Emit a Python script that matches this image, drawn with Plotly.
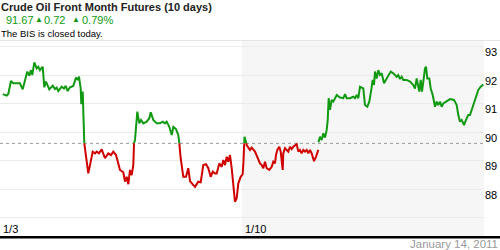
import plotly.graph_objects as go

# ---- data (x in trading days since 1/3, price in USD) ----
DAYS = [0.056, 0.138, 0.171, 0.227, 0.275, 0.413, 0.469, 0.517, 0.564, 0.605, 0.640, 0.667, 0.709, 0.758, 0.791, 0.826, 0.882, 0.915, 0.950,
        1.019, 1.089, 1.136, 1.171, 1.205, 1.275, 1.322, 1.357, 1.399, 1.446, 1.514, 1.570, 1.605, 1.632, 1.667, 1.680, 1.709, 1.721, 1.742,
        1.777, 1.824, 1.874, 1.915, 1.963, 1.998, 2.045, 2.101, 2.169, 2.238, 2.293, 2.341, 2.397, 2.479, 2.548, 2.583, 2.618, 2.651, 2.686,
        2.721, 2.754, 2.769, 2.789, 2.837, 2.878, 2.913, 2.961, 3.031, 3.085, 3.114, 3.167, 3.238, 3.306, 3.362, 3.409, 3.444, 3.498, 3.548,
        3.581, 3.636, 3.684, 3.705, 3.733, 3.787, 3.843, 3.890, 3.926, 3.994, 4.029, 4.097, 4.147, 4.200, 4.256, 4.304, 4.353, 4.395, 4.442,
        4.477, 4.531, 4.581, 4.614, 4.649, 4.684, 4.717, 4.752, 4.787, 4.820, 4.855, 4.890, 4.924, 4.973, 5.014, 5.031, 5.052, 5.097, 5.165,
        5.200, 5.269, 5.303, 5.372, 5.407, 5.440, 5.475, 5.510, 5.564, 5.614, 5.647, 5.682, 5.702, 5.729, 5.771, 5.800, 5.841, 5.853, 5.888,
        5.957, 5.992, 6.027, 6.060, 6.095, 6.130, 6.163, 6.198, 6.233, 6.267, 6.302, 6.337, 6.370, 6.405, 6.440, 6.488, 6.529, 6.576,
        None,
        6.580, 6.612, 6.647, 6.680, 6.715, 6.750, 6.771, 6.791, 6.818, 6.853, 6.886, 6.957, 7.025, 7.093, 7.128, 7.163, 7.231, 7.300, 7.335,
        7.370, 7.403, 7.438, 7.506, 7.541, 7.589, 7.630, 7.665, 7.700, 7.727, 7.748, 7.783, 7.816, 7.851, 7.886, 7.934, 7.975, 8.023, 8.072,
        8.126, 8.161, 8.196, 8.229, 8.264, 8.299, 8.333, 8.403, 8.471, 8.539, 8.574, 8.609, 8.643, 8.663, 8.692, 8.719, 8.746, 8.781, 8.802,
        8.829, 8.870, 8.899, 8.940, 8.988, 9.023, 9.056, 9.091, 9.126, 9.159, 9.229, 9.298, 9.380, 9.436, 9.469, 9.504, 9.539, 9.587, 9.628,
        9.676, 9.711, 9.746, 9.779, 9.814, 9.849, 9.882, 9.932, 9.986]
PRICES = [91.33, 91.28, 91.34, 91.79, 91.71, 91.71, 91.50, 91.83, 92.12, 91.98, 92.17, 92.00, 92.44, 92.23, 92.29, 92.17, 92.29, 91.57, 91.77,
          91.50, 91.63, 91.51, 91.56, 91.44, 91.59, 91.53, 91.62, 91.44, 91.57, 91.62, 91.91, 91.83, 91.94, 91.53, 90.98, 91.42, 90.49, 89.61,
          89.14, 88.56, 88.97, 89.32, 89.26, 89.32, 89.26, 89.40, 89.09, 89.26, 89.20, 89.32, 89.20, 88.68, 88.60, 88.27, 88.44, 88.18, 88.68,
          88.50, 88.85, 89.61, 89.73, 90.72, 90.31, 90.43, 90.31, 90.37, 90.49, 90.70, 90.43, 90.31, 90.31, 90.37, 90.31, 90.37, 90.19, 89.90,
          90.19, 90.11, 89.90, 89.61, 89.09, 88.44, 88.44, 88.74, 88.29, 88.15, 88.09, 88.27, 88.25, 88.85, 88.88, 88.74, 88.44, 88.62, 88.56,
          88.56, 88.91, 88.79, 89.03, 88.85, 89.14, 88.97, 89.20, 88.74, 88.21, 87.57, 87.69, 88.21, 88.44, 88.53, 88.99, 89.84, 89.55, 89.38,
          89.46, 89.32, 89.20, 88.91, 88.85, 88.74, 88.97, 88.74, 88.68, 88.79, 88.97, 88.91, 89.20, 89.38, 89.49, 89.32, 88.68, 89.26, 89.44,
          89.32, 89.49, 89.41, 89.49, 89.55, 89.58, 89.32, 89.38, 89.26, 89.38, 89.32, 89.38, 89.26, 89.38, 89.26, 88.99, 89.14, 89.38,
          None,
          89.65, 89.84, 89.73, 89.96, 89.81, 90.08, 90.43, 91.19, 90.78, 91.13, 91.07, 91.30, 91.21, 91.19, 91.33, 91.19, 91.19, 91.24, 91.19,
          91.30, 91.19, 91.59, 91.53, 90.95, 90.89, 91.07, 91.42, 91.83, 91.65, 92.12, 91.88, 92.17, 92.00, 92.06, 91.71, 91.83, 91.94, 92.12,
          92.06, 92.00, 91.94, 92.00, 91.86, 91.94, 91.83, 91.83, 91.77, 91.65, 91.53, 91.88, 91.65, 91.42, 91.83, 91.42, 91.77, 92.23, 92.29,
          91.88, 91.88, 91.53, 91.30, 90.89, 91.07, 90.95, 91.07, 90.89, 91.01, 91.09, 91.16, 91.13, 90.95, 90.60, 90.37, 90.43, 90.25, 90.43,
          90.60, 90.60, 90.78, 90.95, 91.19, 91.30, 91.48, 91.59, 91.67]
BASELINE = 89.61
Y_TICKS = [88, 89, 90, 91, 92, 93]
GRID_VALUES = [87, 88, 89, 90, 91, 92, 93]
X_TICK_DAYS = [0, 5]
X_TICK_LABELS = ["1/3", "1/10"]
TITLE = "Crude Oil Front Month Futures (10 days)"
LAST, CHANGE, PCT = "91.67", "0.72", "0.79%"
NOTE = "The BIS is closed today."
DATE_TEXT = "January 14, 2011"

GREEN = "#119a11"
RED = "#d00000"
FONT = "Arial, Liberation Sans, sans-serif"

# ---- split the line into above/below-baseline parts ----
pts = []
for x, y in zip(DAYS, PRICES):
    if y is None:
        pts.append(None)
        continue
    if pts and pts[-1] is not None:
        x0, y0 = pts[-1]
        if (y0 - BASELINE) * (y - BASELINE) < 0:
            t = (BASELINE - y0) / (y - y0)
            pts.append((x0 + t * (x - x0), BASELINE))
    pts.append((x, y))

parts = {"g": ([], []), "r": ([], [])}
last = {"g": None, "r": None}
for j in range(len(pts) - 1):
    a, b = pts[j], pts[j + 1]
    if a is None or b is None:
        continue
    c = "g" if (a[1] + b[1]) / 2 >= BASELINE else "r"
    X, Y = parts[c]
    if last[c] != j:
        if X:
            X.append(None); Y.append(None)
        X.append(a[0]); Y.append(a[1])
    X.append(b[0]); Y.append(b[1])
    last[c] = j + 1

fig = go.Figure()
fig.add_trace(go.Scatter(x=parts["g"][0], y=parts["g"][1], mode="lines",
                         line=dict(color=GREEN, width=2), hoverinfo="skip", showlegend=False))
fig.add_trace(go.Scatter(x=parts["r"][0], y=parts["r"][1], mode="lines",
                         line=dict(color=RED, width=2), hoverinfo="skip", showlegend=False))
# invisible trace to carry the label axis
fig.add_trace(go.Scatter(x=[0], y=[90], yaxis="y2", mode="markers", marker=dict(opacity=0),
                         hoverinfo="skip", showlegend=False))

YR = [86.37, 93.19]
fig.update_layout(
    width=500, height=250, margin=dict(l=0, r=0, t=0, b=0),
    paper_bgcolor="white", plot_bgcolor="white",
    font=dict(family=FONT, size=11, color="#000"),
    xaxis=dict(domain=[0, 0.968], range=[0, 10], showgrid=False, zeroline=False,
               tickvals=X_TICK_DAYS, ticktext=X_TICK_LABELS, ticks="",
               anchor="free", position=1 - 221 / 250,
               ticklabelposition="outside right", ticklabelshift=3,
               tickfont=dict(size=11, color="#000"), showline=False),
    yaxis=dict(domain=[0.056, 0.836], range=YR, tickvals=GRID_VALUES, showticklabels=False,
               showgrid=True, gridcolor="#ebebeb", gridwidth=1, zeroline=False, ticks=""),
    yaxis2=dict(overlaying="y", side="right", anchor="x", range=YR,
                tickvals=[v - 0.2 for v in Y_TICKS], ticktext=[str(v) for v in Y_TICKS],
                showgrid=False, zeroline=False, ticks="", tickfont=dict(size=11, color="#000")),
)

# shaded second week
fig.add_shape(type="rect", xref="x", yref="paper", x0=5, x1=10, y0=0.056, y1=1 - 41 / 250,
              fillcolor="#f6f6f6", line=dict(width=0), layer="below")
# baseline
fig.add_shape(type="line", xref="x", yref="y", x0=0, x1=10, y0=BASELINE, y1=BASELINE,
              line=dict(color="#999", width=1, dash="dot"), layer="below")
# top separator and bottom black bar
fig.add_shape(type="line", xref="paper", yref="paper", x0=0, x1=1, y0=1 - 40.5 / 250, y1=1 - 40.5 / 250,
              line=dict(color="#e6e6e6", width=1))
fig.add_shape(type="rect", xref="paper", yref="paper", x0=0, x1=1, y0=1 - 238.5 / 250, y1=1 - 236 / 250,
              fillcolor="#000", line=dict(width=0))

def ann(text, x, y, size, color, xanchor="left", pad=1):
    fig.add_annotation(text=text, xref="paper", yref="paper", x=x / 500, y=1 - y / 250,
                       xanchor=xanchor, yanchor="middle", showarrow=False, borderpad=pad,
                       font=dict(family=FONT, size=size, color=color))

ann("<b>" + TITLE + "</b>", -1, 7, 11, "#222")
ann(LAST, 4, 20.5, 11, GREEN)
ann("▲", 33, 20, 8, GREEN)
ann(CHANGE, 42, 20.5, 11, GREEN)
ann("▲", 70, 20, 8, GREEN)
ann(PCT, 80, 20.5, 11, GREEN)
ann(NOTE, -1, 33.5, 9.5, "#000")
ann(DATE_TEXT, 499, 244, 11.5, "#999", xanchor="right", pad=0)

fig.write_html("out.html")
